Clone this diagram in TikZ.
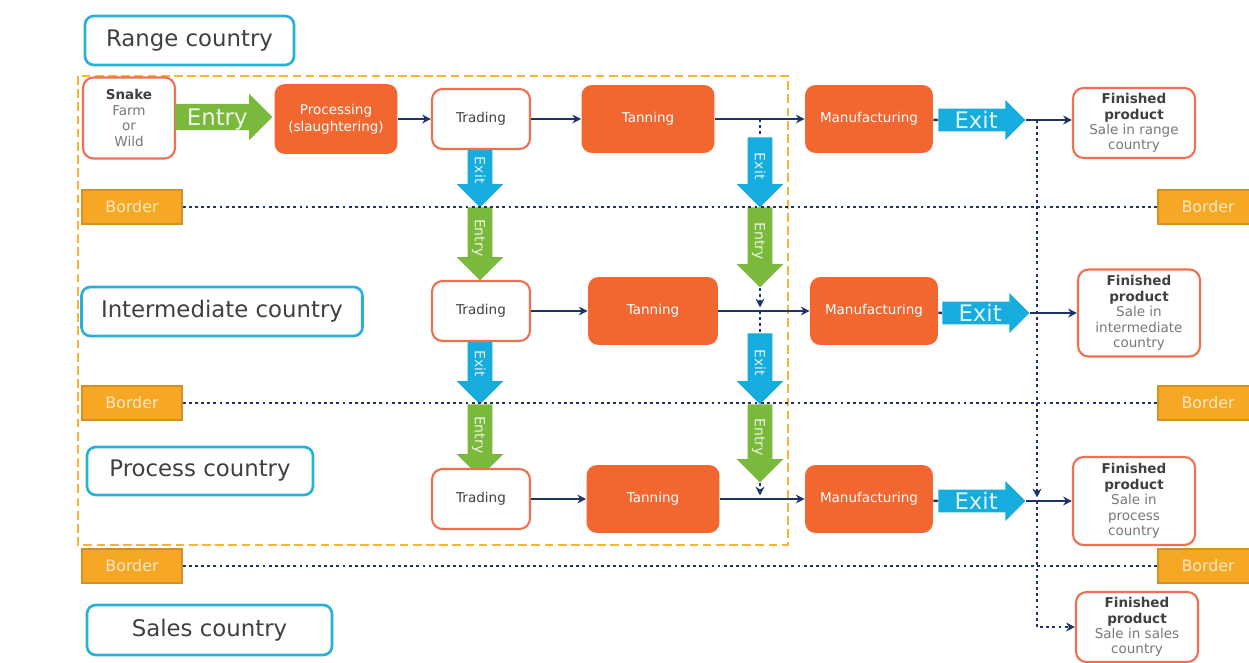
\documentclass[tikz,border=0pt]{standalone}
\usepackage{fontspec}
\setmainfont{DejaVu Sans}
\usetikzlibrary{calc, positioning, arrows.meta, shapes.arrows}

\definecolor{cntryline}{RGB}{40,176,214}
\definecolor{stagefill}{RGB}{242,102,48}
\definecolor{saleline}{RGB}{238,112,82}
\definecolor{bordfill}{RGB}{246,168,36}
\definecolor{borddraw}{RGB}{214,142,40}
\definecolor{bordtext}{RGB}{253,232,196}
\definecolor{entrygreen}{RGB}{122,185,60}
\definecolor{exitblue}{RGB}{22,172,222}
\definecolor{navy}{RGB}{30,52,100}
\definecolor{framegold}{RGB}{246,182,52}
\definecolor{darktext}{RGB}{64,64,64}
\definecolor{softtext}{RGB}{120,120,120}

\begin{document}
\begin{tikzpicture}[x=0.02cm, y=-0.02cm, >={Stealth[length=5pt, width=5pt]},
  every node/.style={font=\fontsize{7.7}{8.8}\selectfont, align=center}]
  \tikzset{
    country/.style={draw=cntryline, line width=1.5pt, rounded corners=5pt, minimum height=0.98cm, text=darktext, font=\fontsize{13}{15}\selectfont},
    stage/.style={fill=stagefill, rounded corners=6pt, text=white, minimum width=2.56cm, minimum height=1.36cm},
    trade/.style={draw=saleline, line width=1.2pt, fill=white, rounded corners=6pt, text=darktext, minimum width=1.96cm, minimum height=1.2cm},
    sale/.style={draw=saleline, line width=1.2pt, fill=white, rounded corners=6pt, text=softtext, minimum width=2.44cm, inner sep=1pt},
    borderbox/.style={fill=bordfill, draw=borddraw, line width=0.8pt, minimum width=2cm, minimum height=0.68cm, text=bordtext, font=\fontsize{9}{10}\selectfont},
    hentry/.style={single arrow, anchor=tail, fill=entrygreen, text=white!88!entrygreen, font=\fontsize{13}{14}\selectfont, text height=9.4pt, text depth=0pt, inner xsep=1pt, inner ysep=2.6pt, single arrow head extend=0.2cm, minimum height=1.94cm},
    hexit/.style={single arrow, anchor=tail, fill=exitblue, text=white!85!exitblue, font=\fontsize{13}{14}\selectfont, text height=9.4pt, text depth=0pt, inner xsep=1pt, inner ysep=1.6pt, single arrow head extend=0.17cm, minimum height=1.74cm},
    vexit/.style={single arrow, anchor=tail, rotate=-90, fill=exitblue, text=white!85!exitblue, font=\fontsize{8}{9}\selectfont, text height=5.8pt, text depth=0pt, inner xsep=1pt, inner ysep=3.9pt, single arrow head extend=0.22cm},
    ventry/.style={vexit, fill=entrygreen, text=white!85!entrygreen},
    flow/.style={draw=navy, line width=1.4pt},
    dotline/.style={draw=navy, line width=1.7pt, dash pattern=on 1.6pt off 1.9pt}
  }
  \useasboundingbox (0,0) rectangle (1249,663);

  % dashed frame round range, intermediate and process country
  \draw[draw=framegold, line width=1.2pt, dash pattern=on 5pt off 2.5pt] (78,76) rectangle (788,545);

  % exit / entry across the borders (drawn first, boxes sit on top)
  \node[vexit, minimum height=1.24cm] (exA1) at (480,145) {Exit};
  \node[ventry, minimum height=1.46cm] (enA1) at (480,207) {Entry};
  \node[vexit, minimum height=1.38cm] (exA2) at (480,335) {Exit};
  \node[ventry, minimum height=1.46cm] (enA2) at (480,404) {Entry};
  \node[vexit, minimum height=1.4cm] (exB1) at (760,137) {Exit};
  \node[ventry, minimum height=1.6cm] (enB1) at (760,207) {Entry};
  \node[vexit, minimum height=1.42cm] (exB2) at (760,333) {Exit};
  \node[ventry, minimum height=1.56cm] (enB2) at (760,404) {Entry};

  % countries
  \node[country, minimum width=4.18cm] (range) at (189.5,40.5) {Range country};
  \node[country, minimum width=5.62cm] (inter) at (222,311.5) {Intermediate country};
  \node[country, minimum width=4.52cm, minimum height=0.96cm] (process) at (200,471) {Process country};
  \node[country, minimum width=4.9cm, minimum height=1cm] (sales) at (209.5,630) {Sales country};

  % range country
  \node[sale, minimum width=1.84cm, minimum height=1.62cm] (snake) at (129,118) {\textcolor{darktext}{\textbf{Snake}}\\Farm\\or\\Wild};
  \node[hentry] (entry) at (175,117) {Entry};
  \node[stage, minimum width=2.46cm, minimum height=1.4cm, font=\fontsize{7.7}{9.5}\selectfont] (proc) at (336,119) {Processing\\(slaughtering)};
  \node[trade] (trade1) at (481,119) {Trading};
  \node[stage, minimum width=2.66cm] (tan1) at (648,119) {Tanning};
  \node[stage] (man1) at (869,119) {Manufacturing};
  \node[hexit] (exit1) at (938,120) {Exit};
  \node[sale, minimum height=1.4cm] (fin1) at (1134,123) {\textcolor{darktext}{\textbf{Finished}}\\\textcolor{darktext}{\textbf{product}}\\Sale in range\\country};

  % intermediate country
  \node[trade] (trade2) at (481,311) {Trading};
  \node[stage, minimum width=2.6cm] (tan2) at (653,311) {Tanning};
  \node[stage] (man2) at (874,311) {Manufacturing};
  \node[hexit] (exit2) at (942,313) {Exit};
  \node[sale, minimum height=1.74cm] (fin2) at (1139,313) {\textcolor{darktext}{\textbf{Finished}}\\\textcolor{darktext}{\textbf{product}}\\Sale in\\intermediate\\country};

  % process country
  \node[trade] (trade3) at (481,499) {Trading};
  \node[stage, minimum width=2.66cm] (tan3) at (653,499) {Tanning};
  \node[stage] (man3) at (869,499) {Manufacturing};
  \node[hexit] (exit3) at (938,501) {Exit};
  \node[sale, minimum height=1.76cm] (fin3) at (1134,501) {\textcolor{darktext}{\textbf{Finished}}\\\textcolor{darktext}{\textbf{product}}\\Sale in\\process\\country};

  % sales country
  \node[sale, minimum height=1.4cm] (fin4) at (1137,627) {\textcolor{darktext}{\textbf{Finished}}\\\textcolor{darktext}{\textbf{product}}\\Sale in sales\\country};

  % borders
  \node[borderbox] (bl1) at (132,207) {Border};
  \node[borderbox] (br1) at (1208,207) {Border};
  \node[borderbox] (bl2) at (132,403) {Border};
  \node[borderbox] (br2) at (1208,403) {Border};
  \node[borderbox] (bl3) at (132,566) {Border};
  \node[borderbox] (br3) at (1208,566) {Border};
  \draw[dotline] (bl1) -- (bl1 -| br1.west);
  \draw[dotline] (bl2) -- (bl2 -| br2.west);
  \draw[dotline] (bl3) -- (bl3 -| br3.west);

  % trade flow
  \draw[flow, ->] (proc) -- (trade1);
  \draw[flow, ->] (trade1) -- (tan1);
  \draw[flow, ->] (tan1) -- (man1);
  \draw[flow] (man1) -- (exit1.tail);
  \draw[flow, ->] (exit1.tip) -- (exit1.tip -| fin1.west);
  \draw[flow, ->] (trade2) -- (tan2);
  \draw[flow, ->] (tan2) -- (man2);
  \draw[flow] (man2) -- (exit2.tail);
  \draw[flow, ->] (exit2.tip) -- (exit2.tip -| fin2.west);
  \draw[flow, ->] (trade3) -- (tan3);
  \draw[flow, ->] (tan3) -- (man3);
  \draw[flow] (man3) -- (exit3.tail);
  \draw[flow, ->] (exit3.tip) -- (exit3.tip -| fin3.west);

  % skins leaving after tanning
  \draw[dotline] (tan1 -| exB1.tail) -- (exB1.tail);
  \draw[dotline, ->, shorten >=2pt] (enB1.tip) -- (enB1.tip |- tan2);
  \draw[dotline] (tan2 -| exB2.tail) -- (exB2.tail);
  \draw[dotline, ->, shorten >=2pt] (enB2.tip) -- (enB2.tip |- tan3);

  % finished products sold on
  \coordinate (sink) at (1037,0);
  \draw[dotline, ->, shorten >=2pt] (exit1.tip -| sink) -- (exit3.tip -| sink);
  \draw[dotline, ->] (exit3.tip -| sink) |- (fin4.west);
\end{tikzpicture}
\end{document}
